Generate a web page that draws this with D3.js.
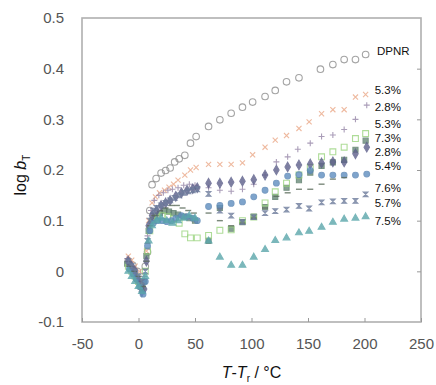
<!DOCTYPE html>
<html>
<head>
<meta charset="utf-8">
<script src="https://cdn.jsdelivr.net/npm/d3@7"></script>
<style>
  html, body { margin: 0; padding: 0; background: #fff; }
  svg { display: block; font-family: "Liberation Sans", Arial, sans-serif; }
</style>
</head>
<body>
<div id="chart"></div>
<script>
// series labels, top to bottom at the right edge
const labels = ["DPNR", "5.3%", "2.8%", "5.3%", "7.3%", "2.8%", "5.4%", "7.6%", "5.7%", "7.5%"];
// where each label sits (log bT units)
const labelAt = [0.435, 0.357, 0.324, 0.29, 0.263, 0.235, 0.207, 0.164, 0.134, 0.099];

const xTicks = [-50, 0, 50, 100, 150, 200, 250];
const yTicks = [-0.1, 0, 0.1, 0.2, 0.3, 0.4, 0.5];

// DPNR - open circles
const xDPNR = [-9, -5, -1, 3, 6, 8, 10, 12, 15.6, 20, 24, 28, 32, 36, 41, 46, 51, 62, 72, 82, 92, 101, 112, 121, 131, 142, 161, 172, 182, 192, 201];
const yDPNR = [0.02, 0.012, 0.0, -0.02, 0.01, 0.038, 0.12, 0.171, 0.183, 0.194, 0.199, 0.204, 0.216, 0.222, 0.229, 0.253, 0.266, 0.286, 0.299, 0.312, 0.324, 0.334, 0.345, 0.357, 0.374, 0.382, 0.399, 0.408, 0.418, 0.418, 0.428];
// 5.3% - crosses
const x53a = [-9, -6, -3, 1, 4, 7, 9, 12, 15, 18.6, 23, 27, 31, 35, 41, 46, 51, 62, 72, 82, 92, 101, 112, 121, 131, 142, 151, 162, 172, 182, 192, 201];
const y53a = [0.03, 0.022, 0.01, 0.0, -0.02, 0.04, 0.1, 0.135, 0.147, 0.155, 0.16, 0.166, 0.172, 0.18, 0.19, 0.2, 0.205, 0.211, 0.211, 0.211, 0.214, 0.23, 0.245, 0.259, 0.268, 0.282, 0.295, 0.311, 0.319, 0.319, 0.344, 0.349];
// 2.8% - plus
const x28a = [-10, -7, -4, -1, 2, 5, 8, 11, 14, 18, 22, 26, 30, 35, 40, 45, 50, 62, 72, 82, 92, 102, 112, 122, 132, 141, 152, 162, 172, 182, 192, 202];
const y28a = [0.025, 0.015, 0.005, -0.01, -0.025, -0.01, 0.07, 0.12, 0.14, 0.15, 0.155, 0.16, 0.162, 0.165, 0.17, 0.172, 0.17, 0.165, 0.16, 0.158, 0.162, 0.172, 0.19, 0.216, 0.226, 0.241, 0.253, 0.266, 0.269, 0.28, 0.3, 0.328];
// 5.3% - open squares
const x53b = [-9, -6, -3, 0, 3, 6, 8, 10, 13, 17, 21, 26, 31, 36, 41, 46, 52, 62, 72, 82, 92, 102, 112, 121, 131, 142, 152, 162, 172, 182, 192, 201];
const y53b = [0.01, 0.0, -0.01, -0.02, -0.03, 0.0, 0.04, 0.08, 0.1, 0.107, 0.11, 0.108, 0.104, 0.095, 0.074, 0.066, 0.066, 0.071, 0.081, 0.082, 0.1, 0.107, 0.135, 0.157, 0.174, 0.19, 0.205, 0.226, 0.236, 0.245, 0.262, 0.272];
// 7.3% - filled squares
const x73 = [-10, -7, -4, -1, 2, 5, 7, 9, 12, 15, 19, 23, 27, 31, 35, 40, 45, 50, 62, 72, 82, 92, 102, 112, 121, 131, 142, 152, 162, 172, 182, 192, 201];
const y73 = [0.015, 0.005, -0.005, -0.015, -0.03, -0.02, 0.03, 0.08, 0.1, 0.11, 0.115, 0.12, 0.118, 0.115, 0.112, 0.108, 0.105, 0.1, 0.06, 0.125, 0.084, 0.097, 0.108, 0.127, 0.147, 0.165, 0.18, 0.195, 0.208, 0.215, 0.22, 0.24, 0.258];
// 2.8% - filled diamonds
const x28b = [-9, -6, -3, 0, 3, 5, 7, 9, 12, 16, 20, 24, 28, 33, 38, 43, 48, 52, 62, 72, 82, 92, 102, 112, 122, 132, 142, 152, 162, 172, 182, 192, 202];
const y28b = [0.02, 0.01, 0.0, -0.02, -0.04, -0.035, 0.02, 0.09, 0.11, 0.12, 0.13, 0.135, 0.14, 0.148, 0.155, 0.16, 0.163, 0.165, 0.174, 0.174, 0.176, 0.178, 0.181, 0.19, 0.2, 0.206, 0.21, 0.212, 0.214, 0.216, 0.216, 0.232, 0.245];
// 5.4% - filled circles
const x54 = [-8, -5, -2, 1, 4, 6, 8, 10, 13, 17, 21, 25, 29, 33, 38, 43, 48, 52, 62, 72, 82, 92, 102, 112, 122, 132, 142, 152, 162, 172, 182, 192, 202];
const y54 = [0.005, -0.005, -0.015, -0.03, -0.045, -0.02, 0.05, 0.08, 0.095, 0.1, 0.1, 0.098, 0.1, 0.105, 0.11, 0.108, 0.105, 0.1, 0.128, 0.13, 0.134, 0.137, 0.147, 0.16, 0.174, 0.188, 0.191, 0.199, 0.19, 0.19, 0.19, 0.19, 0.192];
// 7.6% - dashes
const x76 = [-8, -4, 0, 4, 7, 10, 14, 19, 24, 29, 34, 39, 44, 49, 62, 72, 82, 92, 102, 112, 122, 132, 142, 152, 162, 172, 182];
const y76 = [0.01, 0.0, -0.01, -0.03, 0.02, 0.09, 0.11, 0.12, 0.125, 0.13, 0.13, 0.125, 0.12, 0.115, 0.115, 0.1, 0.09, 0.095, 0.105, 0.125, 0.148, 0.155, 0.162, 0.162, 0.172, 0.182, 0.185];
// 5.7% - bowties
const x57 = [-9, -6, -3, 0, 3, 6, 8, 10, 13, 16, 20, 24, 28, 32, 36, 40, 44, 48, 52, 62, 72, 82, 92, 102, 112, 121, 131, 142, 151, 162, 172, 182, 192, 201];
const y57 = [0.02, 0.01, 0.0, -0.01, -0.02, 0.0, 0.06, 0.1, 0.12, 0.125, 0.13, 0.135, 0.14, 0.145, 0.15, 0.155, 0.158, 0.16, 0.162, 0.153, 0.12, 0.11, 0.097, 0.107, 0.115, 0.119, 0.122, 0.129, 0.124, 0.136, 0.138, 0.139, 0.139, 0.152];
// 7.5% - triangles
const x75 = [-9, -6, -3, 0, 3, 6, 9, 12, 16, 20, 25, 30, 35, 40, 45, 50, 62, 72, 82, 92, 102, 112, 121, 131, 142, 151, 162, 172, 182, 192, 201];
const y75 = [0.0, -0.01, -0.02, -0.03, -0.04, -0.01, 0.06, 0.09, 0.1, 0.105, 0.1, 0.095, 0.1, 0.105, 0.11, 0.105, 0.06, 0.028, 0.012, 0.012, 0.028, 0.043, 0.061, 0.066, 0.076, 0.079, 0.087, 0.097, 0.103, 0.105, 0.108];

const W = 436, H = 385;
const margin = { top: 18, right: 15, bottom: 63, left: 82 };

const x = d3.scaleLinear().domain([-50, 250]).range([margin.left, W - margin.right]);
const y = d3.scaleLinear().domain([-0.1, 0.5]).range([H - margin.bottom, margin.top]);

// hyphen minus, like the original
const fmtX = d => String(d);
const fmtY = d => d === 0 ? "0" : d.toFixed(1);

// custom symbols
const bowtie = {
  draw(ctx, size) {
    const r = Math.sqrt(size) / 2;
    ctx.moveTo(-r, -r); ctx.lineTo(r, -r); ctx.lineTo(-r, r); ctx.lineTo(r, r); ctx.closePath();
  }
};
const dash = {
  draw(ctx, size) {
    const r = Math.sqrt(size) / 2;
    ctx.moveTo(-r, -0.7); ctx.lineTo(r, -0.7); ctx.lineTo(r, 0.7); ctx.lineTo(-r, 0.7); ctx.closePath();
  }
};
const plus = {
  draw(ctx, size) {
    const r = Math.sqrt(size) / 2;
    ctx.moveTo(-r, 0); ctx.lineTo(r, 0); ctx.moveTo(0, -r); ctx.lineTo(0, r);
  }
};
const times = {
  draw(ctx, size) {
    const r = Math.sqrt(size) / 2.6;
    ctx.moveTo(-r, -r); ctx.lineTo(r, r); ctx.moveTo(-r, r); ctx.lineTo(r, -r);
  }
};

const series = [
  { xs: xDPNR, ys: yDPNR, sym: d3.symbolCircle, size: 34, fill: "none", stroke: "#8c8c8c" },
  { xs: x53a, ys: y53a, sym: times, size: 44, fill: "none", stroke: "#eaa887" },
  { xs: x28a, ys: y28a, sym: plus, size: 36, fill: "none", stroke: "#9585a6" },
  { xs: x73, ys: y73, sym: d3.symbolSquare, size: 26, fill: "#688a78", stroke: "#587a68" },
  { xs: x53b, ys: y53b, sym: d3.symbolSquare, size: 34, fill: "none", stroke: "#9ad37e" },
  { xs: x28b, ys: y28b, sym: d3.symbolDiamond, size: 26, fill: "#5d5f8a", stroke: "#5d5f8a" },
  { xs: x54, ys: y54, sym: d3.symbolCircle, size: 26, fill: "#5f8ec0", stroke: "#5a86b5" },
  { xs: x76, ys: y76, sym: dash, size: 36, fill: "#5a6a5a", stroke: "none" },
  { xs: x57, ys: y57, sym: bowtie, size: 22, fill: "#7483a3", stroke: "#6b7a9a" },
  { xs: x75, ys: y75, sym: d3.symbolTriangle, size: 20, fill: "#5aa6aa", stroke: "#5aa6aa" }
];

const svg = d3.select("#chart").append("svg")
  .attr("width", W)
  .attr("height", H);

const defs = svg.append("defs");
defs.append("filter").attr("id", "soft").append("feGaussianBlur").attr("stdDeviation", 0.4);

// frame
svg.append("rect")
  .attr("x", x(-50)).attr("y", y(0.5))
  .attr("width", x(250) - x(-50)).attr("height", y(-0.1) - y(0.5))
  .attr("fill", "none").attr("stroke", "#b0b0b0").attr("stroke-width", 1.6);

// bottom axis ticks (inward) + labels
const xAxis = d3.axisBottom(x).tickValues(xTicks).tickSize(-4).tickPadding(16).tickFormat(fmtX);
const gx = svg.append("g").attr("transform", `translate(0,${y(-0.1)})`).call(xAxis);
gx.select(".domain").remove();
gx.selectAll(".tick line").attr("stroke", "#999");
gx.selectAll(".tick text").attr("fill", "#555").attr("font-size", 15).attr("font-family", "Liberation Sans, Arial, sans-serif");

// left labels
const yAxis = d3.axisLeft(y).tickValues(yTicks).tickSize(0).tickPadding(18).tickFormat(fmtY);
const gy = svg.append("g").attr("transform", `translate(${x(-50)},0)`).call(yAxis);
gy.select(".domain").remove();
gy.selectAll(".tick text").attr("fill", "#555").attr("font-size", 15).attr("font-family", "Liberation Sans, Arial, sans-serif");

// right ticks (inward)
const yRight = d3.axisRight(y).tickValues(yTicks.slice(1, -1)).tickSize(-4).tickFormat("");
const gr = svg.append("g").attr("transform", `translate(${x(250)},0)`).call(yRight);
gr.select(".domain").remove();
gr.selectAll(".tick line").attr("stroke", "#999");

// points
const pts = svg.append("g").attr("filter", "url(#soft)");
series.forEach(s => {
  const data = s.xs.map((v, i) => [v, s.ys[i]]);
  pts.append("g").selectAll("path")
    .data(data)
    .enter()
    .append("path")
    .attr("transform", d => `translate(${x(d[0])},${y(d[1])})`)
    .attr("d", d3.symbol().type(s.sym).size(s.size))
    .attr("fill", s.fill)
    .attr("stroke", s.stroke)
    .attr("stroke-width", 1.1)
    .attr("opacity", 0.8);
});

// series labels
svg.append("g").selectAll("text")
  .data(labels)
  .enter()
  .append("text")
  .attr("x", (d, i) => i === 0 ? x(211) : x(209))
  .attr("y", (d, i) => y(labelAt[i]))
  .attr("dy", "0.35em")
  .attr("font-size", 11.5)
  .attr("fill", "#111")
  .text(d => d);

// axis titles
const xt = svg.append("text")
  .attr("x", x(100))
  .attr("y", 378)
  .attr("text-anchor", "middle")
  .attr("font-size", 16)
  .attr("fill", "#111");
xt.append("tspan").attr("font-style", "italic").text("T");
xt.append("tspan").text("-");
xt.append("tspan").attr("font-style", "italic").text("T");
xt.append("tspan").attr("font-size", 10).attr("dy", 4).text("r");
xt.append("tspan").attr("dy", -4).text(" / °C");

const yt = svg.append("text")
  .attr("transform", `translate(26,${y(0.19)}) rotate(-90)`)
  .attr("text-anchor", "middle")
  .attr("font-size", 16)
  .attr("fill", "#111");
yt.append("tspan").text("log ");
yt.append("tspan").attr("font-style", "italic").text("b");
yt.append("tspan").attr("font-size", 10).attr("dy", 4).text("T");
</script>
</body>
</html>
